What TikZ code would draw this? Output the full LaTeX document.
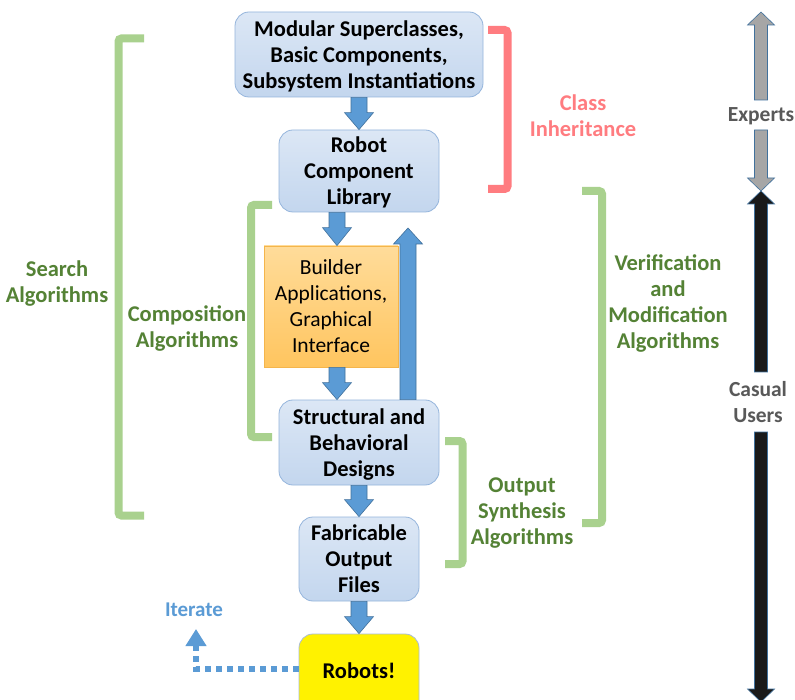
\documentclass[tikz,border=0pt]{standalone}
\usepackage{fontspec}
\setmainfont{Carlito}
\usetikzlibrary{calc,arrows.meta}

\definecolor{boxtop}{HTML}{DCE7F5}
\definecolor{boxbot}{HTML}{C3D6EE}
\definecolor{boxline}{HTML}{95B5DC}
\definecolor{flowblue}{HTML}{5B9BD5}
\definecolor{flowline}{HTML}{41719C}
\definecolor{orgtop}{HTML}{FFDC9A}
\definecolor{orgbot}{HTML}{FFC55F}
\definecolor{orgline}{HTML}{F4B54C}
\definecolor{robotline}{HTML}{A9BCD6}
\definecolor{brgreen}{HTML}{A9D18E}
\definecolor{txgreen}{HTML}{548235}
\definecolor{brred}{HTML}{FF7C80}
\definecolor{userdark}{HTML}{1A1A1A}
\definecolor{usergrey}{HTML}{A6A6A6}
\definecolor{txgrey}{HTML}{595959}

% Straight block arrow from #2 to #3:
% #1 style, #4 half shaft width, #5 half head width, #6 head length
\newcommand\blockarrow[6]{%
  \coordinate (ba-s) at (#2);
  \coordinate (ba-e) at (#3);
  \coordinate (ba-h) at ($(ba-e)!#6!(ba-s)$);
  \filldraw[#1] ($(ba-s)!#4!90:(ba-e)$) -- ($(ba-h)!#4!-90:(ba-s)$)
    -- ($(ba-h)!#5!-90:(ba-s)$) -- (ba-e) -- ($(ba-h)!#5!90:(ba-s)$)
    -- ($(ba-h)!#4!90:(ba-s)$) -- ($(ba-s)!#4!-90:(ba-e)$) -- cycle;}

\tikzset{
  txt/.style={font=\fontsize{21.5}{26}\selectfont, align=center, inner sep=0pt,
    text depth=0pt},
  boldtxt/.style={txt, font=\bfseries\fontsize{22.5}{26}\selectfont},
  stagebox/.style={boldtxt, rounded corners=14pt, top color=boxtop,
    bottom color=boxbot, draw=boxline, line width=0.8pt},
  toolbox/.style={txt, top color=orgtop, bottom color=orgbot,
    draw=orgline, line width=0.8pt},
  robotbox/.style={boldtxt, rounded corners=14pt, fill=yellow,
    draw=robotline, line width=0.8pt},
  flowarrow/.style={fill=flowblue, draw=flowline, line width=0.6pt},
  expertarrow/.style={fill=usergrey, draw=flowline, line width=0.6pt},
  casualarrow/.style={fill=userdark, draw=flowline, line width=0.6pt},
  greenbracket/.style={draw=brgreen, line width=8pt, rounded corners=3pt},
  redbracket/.style={draw=brred, line width=8pt, rounded corners=3pt},
  greenlabel/.style={boldtxt, text=txgreen},
  redlabel/.style={boldtxt, text=brred},
  greylabel/.style={boldtxt, text=txgrey, font=\bfseries\fontsize{21.5}{26}\selectfont},
  iteratepath/.style={draw=flowblue, line width=6pt, dash pattern=on 6pt off 5pt,
    -{Triangle[width=20pt,length=17pt]}},
}

\begin{document}
\begin{tikzpicture}[x=1pt,y=-1pt]
\clip (0,0) rectangle (795,700);
\fill[white] (0,0) rectangle (795,700);

% pipeline stages
\node[stagebox, minimum width=248pt, minimum height=85pt] (b1) at (359,54.5)
  {Modular Superclasses,\\Basic Components,\\Subsystem Instantiations};
\node[stagebox, minimum width=160pt, minimum height=82pt] (b2) at (359,171)
  {Robot\\Component\\Library};
\node[toolbox, minimum width=134pt, minimum height=121pt] (b3) at (331,306.5)
  {Builder\\Applications,\\Graphical\\Interface};
\node[stagebox, minimum width=160pt, minimum height=85pt] (b4) at (359,442.5)
  {Structural and\\Behavioral\\Designs};
\node[stagebox, minimum width=120pt, minimum height=84pt] (b5) at (359,559)
  {Fabricable\\Output\\Files};
\node[robotbox, minimum width=120pt, minimum height=92pt] (b6) at (359,680)
  {\raisebox{19pt}{Robots!}};

% flow between stages
\blockarrow{flowarrow}{b1.south}{b2.north}{8pt}{14.5pt}{17pt}
\blockarrow{flowarrow}{[xshift=-22pt]b2.south}{[xshift=6pt]b3.north}{8pt}{14.5pt}{18pt}
\blockarrow{flowarrow}{[xshift=6pt]b3.south}{[xshift=-22pt]b4.north}{8pt}{14.5pt}{17pt}
\coordinate (backtip) at (408,228);
\blockarrow{flowarrow}{[xshift=49pt]b4.north}{backtip}{8pt}{14.5pt}{16pt}
\blockarrow{flowarrow}{b4.south}{b5.north}{8pt}{14.5pt}{17pt}
\blockarrow{flowarrow}{b5.south}{b6.north}{8pt}{14.5pt}{17pt}

% iterate loop
\node[boldtxt, text=flowblue, font=\bfseries\fontsize{21}{24}\selectfont] (iter) at (194,610) {Iterate};
\coordinate (itcorner) at (196,669);
\coordinate (ittip) at (196,629);
\draw[iteratepath] ([yshift=11pt]b6.west) -- (itcorner) -- (ittip);

% brackets
\draw[redbracket] (488,30) -- (507.5,30) -- (507.5,189) -- (488,189);
\node[redlabel] (inherit) at (583,116) {Class\\Inheritance};

\draw[greenbracket] (144,38.5) -- (118.5,38.5) -- (118.5,515.5) -- (144,515.5);
\node[greenlabel] (search) at (57,282) {Search\\Algorithms};

\draw[greenbracket] (272,205) -- (251,205) -- (251,437) -- (272,437);
\node[greenlabel] (compose) at (187,327) {Composition\\Algorithms};

\draw[greenbracket] (582,191) -- (602,191) -- (602,523) -- (582,523);
\node[greenlabel] (verify) at (668,302) {Verification\\and\\Modification\\Algorithms};

\draw[greenbracket] (445,441) -- (462.5,441) -- (462.5,564) -- (445,564);
\node[greenlabel] (synth) at (522,511) {Output\\Synthesis\\Algorithms};

% user scale
\node[greylabel] (experts) at (761,115) {Experts};
\node[greylabel] (casual) at (758,402) {Casual\\Users};
\coordinate (exptop) at (761,12);
\coordinate (meet) at (761,191);
\coordinate (casbot) at (761,702);
\blockarrow{expertarrow}{761,100}{exptop}{6.5pt}{13.5pt}{13pt}
\blockarrow{expertarrow}{761,130}{meet}{6.5pt}{13.5pt}{13pt}
\blockarrow{casualarrow}{761,372}{meet}{6.5pt}{13.5pt}{13pt}
\blockarrow{casualarrow}{761,432}{casbot}{6.5pt}{13.5pt}{13pt}
\end{tikzpicture}
\end{document}
